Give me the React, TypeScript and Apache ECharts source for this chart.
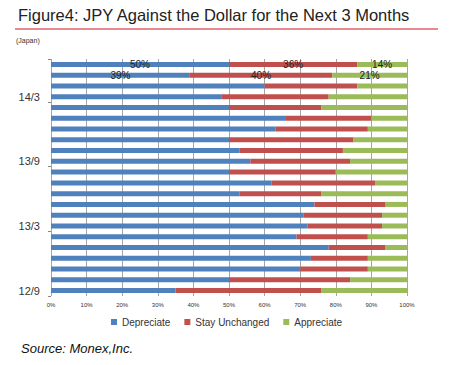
import React, { useEffect, useRef } from "react";
import * as echarts from "echarts";

const categories = ["12/9","12/10","12/11","12/12","13/1","13/2","13/3","13/4","13/5","13/6","13/7","13/8","13/9","13/10","13/11","13/12","14/1","14/2","14/3","14/4","14/5","14/6"];
const depreciate = [35,50,70,73,78,69,72,71,74,53,62,50,56,53,50,63,66,50,48,60,39,50];
const stayUnchanged = [41,34,19,16,16,20,21,22,20,23,29,30,28,29,35,26,24,26,30,26,40,36];
const appreciate = [24,16,11,11,6,11,7,7,6,24,9,20,16,18,15,11,10,24,22,14,21,14];
const xTicks = ["0%","10%","20%","30%","40%","50%","60%","70%","80%","90%","100%"];
const labeledCats = ["14/5", "14/6"];

const FONT = "'Liberation Sans', Arial, sans-serif";

function makeData(vals: number[]) {
  return vals.map((v, i) =>
    labeledCats.includes(categories[i])
      ? { value: v, label: { show: true } }
      : { value: v }
  );
}

export default function App() {
  const ref = useRef<HTMLDivElement>(null);
  useEffect(() => {
    document.body.style.margin = "0";
    const chart = echarts.init(ref.current!, null, { renderer: "svg" });
    const label = {
      show: false,
      position: "inside",
      formatter: "{c}%",
      color: "#222",
      fontSize: 10,
      fontFamily: FONT,
    };
    const series = [
      { name: "Depreciate", vals: depreciate, color: "#4f81bd" },
      { name: "Stay Unchanged", vals: stayUnchanged, color: "#c0504d" },
      { name: "Appreciate", vals: appreciate, color: "#9bbb59" },
    ].map((s) => ({
      name: s.name,
      type: "bar",
      stack: "total",
      barWidth: 5,
      itemStyle: { color: s.color },
      label,
      data: makeData(s.vals),
    }));
    chart.setOption({
      animation: false,
      grid: { left: 51, right: 48, top: 59, bottom: 69, containLabel: false },
      xAxis: {
        type: "value",
        min: 0,
        max: 100,
        interval: 10,
        axisLine: { show: false },
        axisTick: { show: false },
        splitLine: { show: true, lineStyle: { color: "#a6a6a6", width: 1 } },
        axisLabel: {
          fontSize: 6,
          color: "#333",
          margin: 6,
          fontFamily: FONT,
          formatter: (v: number) => xTicks[Math.round(v / 10)],
        },
      },
      yAxis: {
        type: "category",
        data: categories,
        axisLine: { show: false },
        axisTick: {
          show: true,
          length: 3,
          interval: (i: number) => i % 6 === 0,
          lineStyle: { color: "#888" },
        },
        axisLabel: {
          interval: (i: number) => i % 6 === 0,
          fontSize: 11,
          color: "#333",
          margin: 11,
          fontFamily: FONT,
        },
      },
      legend: {
        left: 106,
        top: 312,
        icon: "rect",
        itemWidth: 6,
        itemHeight: 6,
        itemGap: 14,
        textStyle: { fontSize: 10, color: "#333", fontFamily: FONT },
      },
      graphic: [
        {
          type: "text",
          left: 18,
          top: 6,
          style: {
            text: "Figure4: JPY Against the Dollar for the Next 3 Months",
            font: `16.5px ${FONT}`,
            fill: "#222",
          },
        },
        {
          type: "line",
          shape: { x1: 15, y1: 29, x2: 438, y2: 29 },
          style: { stroke: "#e0606a", lineWidth: 1.5 },
        },
        {
          type: "text",
          left: 16,
          top: 37,
          style: { text: "(Japan)", font: `7px ${FONT}`, fill: "#333" },
        },
        {
          type: "text",
          left: 21,
          top: 342,
          style: {
            text: "Source: Monex,Inc.",
            font: `italic 13px ${FONT}`,
            fill: "#111",
          },
        },
      ],
      series,
    });
    return () => chart.dispose();
  }, []);
  return <div ref={ref} style={{ width: 455, height: 365 }} />;
}
